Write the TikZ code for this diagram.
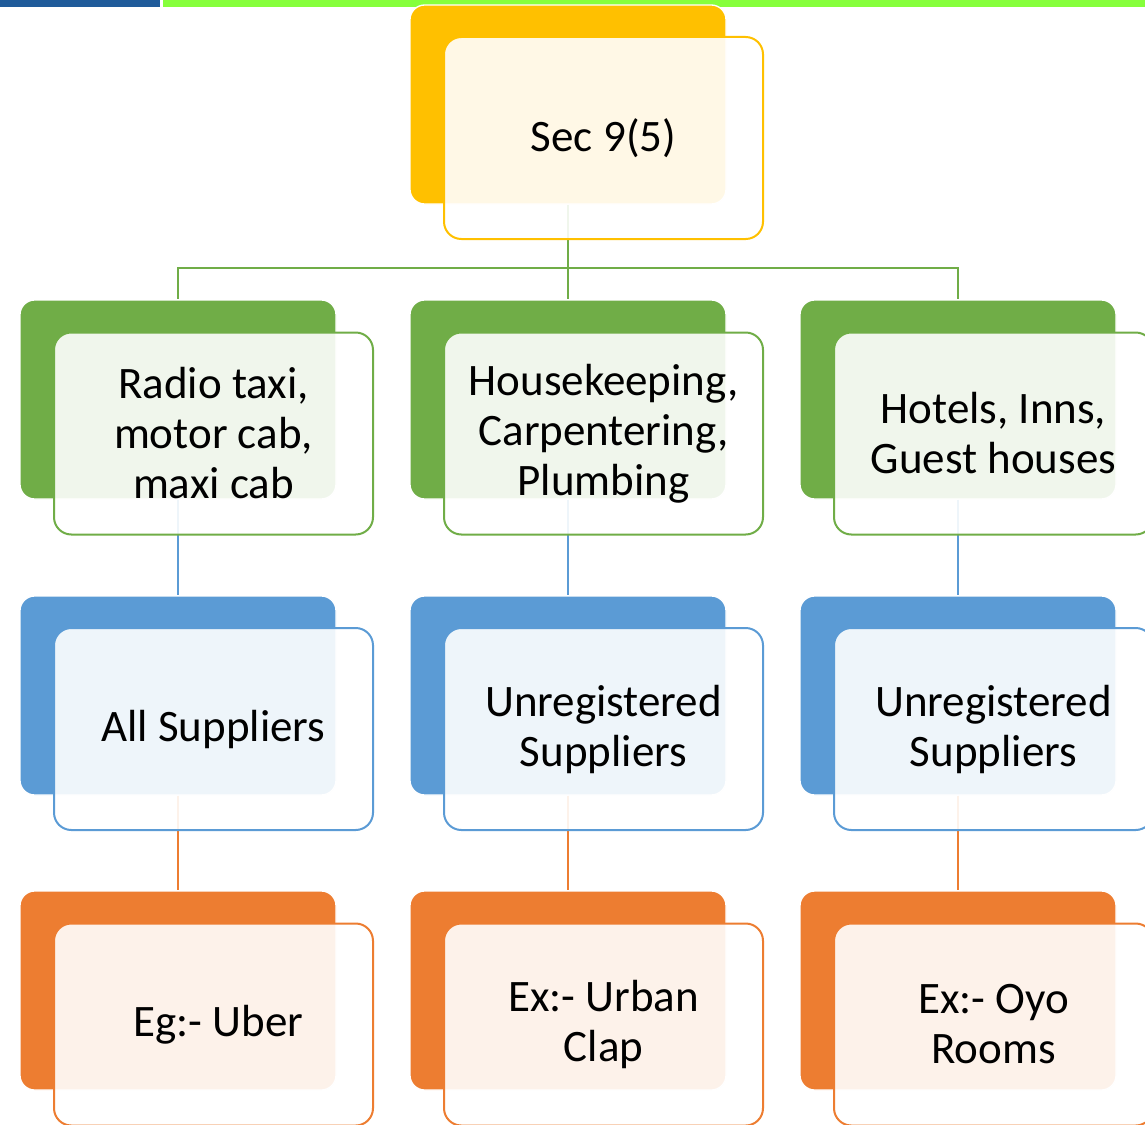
\documentclass[tikz,border=0pt]{standalone}
\usepackage{fontspec}
\setmainfont{Carlito}
\definecolor{cYel}{HTML}{FFC000}
\definecolor{cGrn}{HTML}{70AD47}
\definecolor{cBlu}{HTML}{5B9BD5}
\definecolor{cOrg}{HTML}{ED7D31}
\definecolor{barBlue}{HTML}{1F5B9A}
\definecolor{barGreen}{HTML}{86FF3C}
\begin{document}
\begin{tikzpicture}[x=0.75pt,y=-0.75pt,
  back/.style={rectangle, rounded corners=11pt, minimum width=237pt,
    minimum height=149.25pt, draw=white, line width=1pt, fill=#1},
  front/.style={rectangle, rounded corners=13pt, minimum width=239.25pt,
    minimum height=151.5pt, draw=#1, line width=1.5pt, fill=white,
    fill opacity=0.9, text opacity=1, align=center, inner sep=0pt,
    font=\fontsize{33.75}{37.5}\selectfont},
  link/.style={draw=#1, line width=1.5pt}]
\useasboundingbox (0,0) rectangle (1145,1124);
\clip (0,0) rectangle (1145,1124);

% header bars
\fill[barBlue] (0,0) rectangle (160,7);
\fill[barGreen] (163,0) rectangle (1145,7);

% back panels
\node[back=cYel] (b0) at (568,104.5) {};
\node[back=cGrn] (g1) at (178,399.5) {};
\node[back=cGrn] (g2) at (568,399.5) {};
\node[back=cGrn] (g3) at (958,399.5) {};
\node[back=cBlu] (u1) at (178,695.5) {};
\node[back=cBlu] (u2) at (568,695.5) {};
\node[back=cBlu] (u3) at (958,695.5) {};
\node[back=cOrg] (o1) at (178,990.5) {};
\node[back=cOrg] (o2) at (568,990.5) {};
\node[back=cOrg] (o3) at (958,990.5) {};

% connectors (beneath the translucent front panels)
\coordinate (split) at (568,268);
\draw[link=cGrn] (b0.south) -- (split);
\draw[link=cGrn] (split) -| (g1.north);
\draw[link=cGrn] (split) -- (g2.north);
\draw[link=cGrn] (split) -| (g3.north);
\foreach \i in {1,2,3} {
  \draw[link=cBlu] (g\i.south) -- (u\i.north);
  \draw[link=cOrg] (u\i.south) -- (o\i.north);
}

% front panels with labels
\node[front=cYel] (t0) at (603.5,138) {Sec 9(5)};
\node[front=cGrn] (t1) at (213.5,433.5) {Radio taxi,\\motor cab,\\maxi cab};
\node[front=cGrn] (t2) at (603.5,433.5) {Housekeeping,\\Carpentering,\\Plumbing};
\node[front=cGrn] (t3) at (993.5,433.5) {Hotels, Inns,\\Guest houses};
\node[front=cBlu] (s1) at (213.5,729) {All Suppliers};
\node[front=cBlu] (s2) at (603.5,729) {Unregistered\\Suppliers};
\node[front=cBlu] (s3) at (993.5,729) {Unregistered\\Suppliers};
\node[front=cOrg] (e1) at (213.5,1024.5) {\hspace*{7.5pt}Eg:- Uber};
\node[front=cOrg] (e2) at (603.5,1024.5) {Ex:- Urban\\Clap};
\node[front=cOrg] (e3) at (993.5,1024.5) {Ex:- Oyo\\Rooms};
\end{tikzpicture}
\end{document}
